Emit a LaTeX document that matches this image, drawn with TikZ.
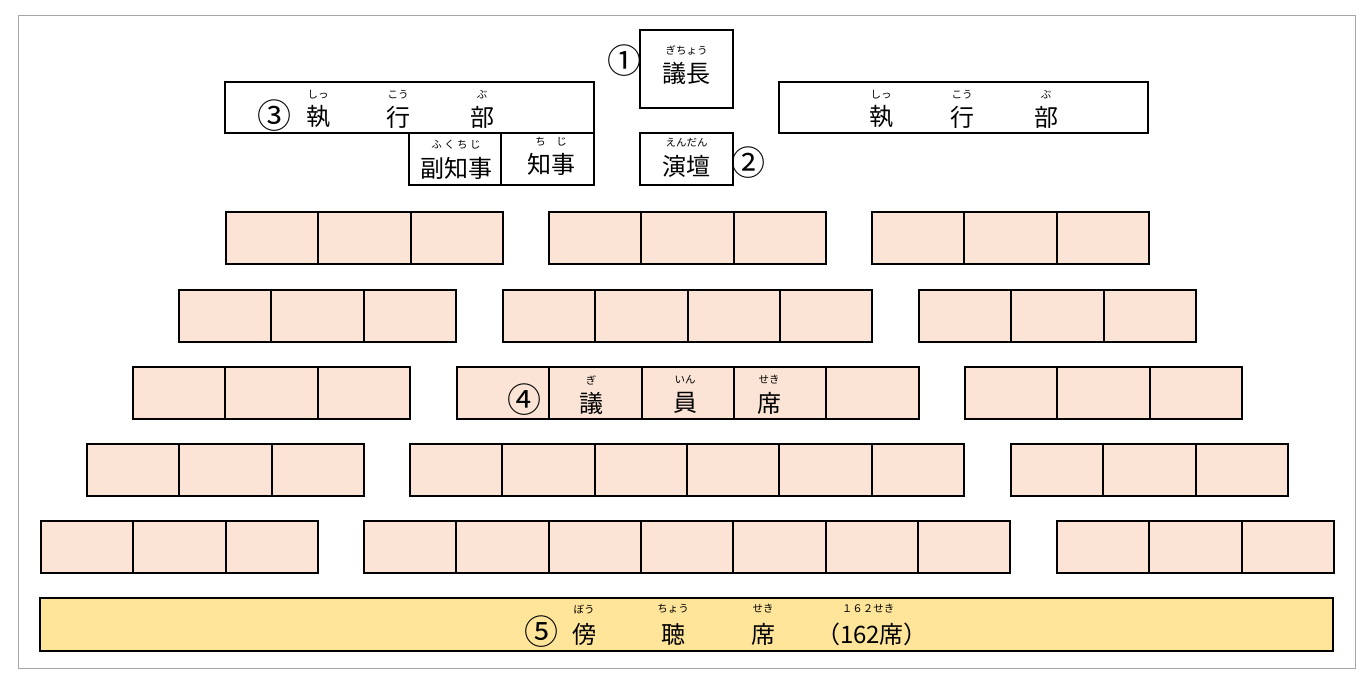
\documentclass[tikz,border=0pt]{standalone}
\usepackage{fontspec}
\setmainfont{Noto Sans CJK JP}
\usetikzlibrary{positioning}
\definecolor{seat}{HTML}{FBE4D5}
\definecolor{gal}{HTML}{FFE599}
\tikzset{
  box/.style={draw=black,line width=2pt},
  seatbox/.style={box,fill=seat},
  big/.style={font=\fontsize{24}{24}\selectfont,inner sep=0pt},
  num/.style={font=\fontsize{34}{34}\selectfont,inner sep=0pt},
  ruby/.style={font=\fontsize{10.5}{10.5}\selectfont,inner sep=0pt},
}
\newcommand{\seatrow}[4]{% name, x0, y0, count
  \foreach \i in {1,...,#4}{
    \node[seatbox,minimum width=92.3pt,minimum height=52pt,inner sep=0pt,anchor=north west] (#1\i) at ({#2+(\i-1)*92.3},#3) {};
  }}
\begin{document}
\begin{tikzpicture}[x=1pt,y=-1pt]
\useasboundingbox (0,0) rectangle (1369,682);
\draw[gray!70,line width=0.8pt] (18,15) rectangle (1355,668);
% chair
\draw[box] (640,30) rectangle (733,108);
\node[big] (gc) at (686.5,73) {議長};
\node[ruby] (gcr) at (686.5,50) {ぎちょう};
\node[num] (n1) at (624,61) {①};
% podium
\draw[box] (640,133) rectangle (733,185);
\node[big] (en) at (686.5,166) {演壇};
\node[ruby] (enr) at (686.5,143) {えんだん};
\node[num] (n2) at (748,163) {②};
% executive left
\draw[box] (225,82) rectangle (594,133);
\node[num] (n3) at (274,116) {③};
\node[big] (e1) at (318,117) {執}; \node[ruby] (e1r) at (318,95) {しっ};
\node[big] (e2) at (398,117) {行}; \node[ruby] (e2r) at (398,95) {こう};
\node[big] (e3) at (482,117) {部}; \node[ruby] (e3r) at (482,95) {ぶ};
\draw[box] (409,133) rectangle (501,185);
\draw[box] (501,133) rectangle (594,185);
\node[big] (fk) at (456,168) {副知事}; \node[ruby] (fkr) at (456,145) {ふ く ち じ};
\node[big] (cj) at (551,164) {知事}; \node[ruby] (cjr) at (551,142) {ち　じ};
% executive right
\draw[box] (779,82) rectangle (1148,133);
\node[big] (f1) at (881,117) {執}; \node[ruby] (f1r) at (881,95) {しっ};
\node[big] (f2) at (962,117) {行}; \node[ruby] (f2r) at (962,95) {こう};
\node[big] (f3) at (1046,117) {部}; \node[ruby] (f3r) at (1046,95) {ぶ};
% seats
\seatrow{a}{225}{211}{3} \seatrow{b}{548}{211}{3} \seatrow{c}{871}{211}{3}
\seatrow{d}{178}{289}{3} \seatrow{e}{502}{289}{4} \seatrow{f}{918}{289}{3}
\seatrow{g}{132}{366}{3} \seatrow{h}{456}{366}{5} \seatrow{i}{964}{366}{3}
\seatrow{j}{86}{443}{3} \seatrow{k}{409}{443}{6} \seatrow{l}{1010}{443}{3}
\seatrow{m}{40}{520}{3} \seatrow{n}{363}{520}{7} \seatrow{o}{1056}{520}{3}
\node[num] (n4) at (524,400) {④};
\node[big] (s1) at (591,403) {議}; \node[ruby] (s1r) at (591,380) {ぎ};
\node[big] (s2) at (685,403) {員}; \node[ruby] (s2r) at (685,380) {いん};
\node[big] (s3) at (769,403) {席}; \node[ruby] (s3r) at (769,380) {せき};
% gallery
\draw[box,fill=gal] (40,598) rectangle (1333,651);
\node[num] (n5) at (541,632) {⑤};
\node[big] (b1) at (584,634) {傍}; \node[ruby] (b1r) at (584,609) {ぼう};
\node[big] (b2) at (673,634) {聴}; \node[ruby] (b2r) at (673,609) {ちょう};
\node[big] (b3) at (763,634) {席}; \node[ruby] (b3r) at (763,609) {せき};
\node[big] (b4) at (872,634) {（162席）}; \node[ruby] (b4r) at (868,609) {１６２せき};
\end{tikzpicture}
\end{document}
